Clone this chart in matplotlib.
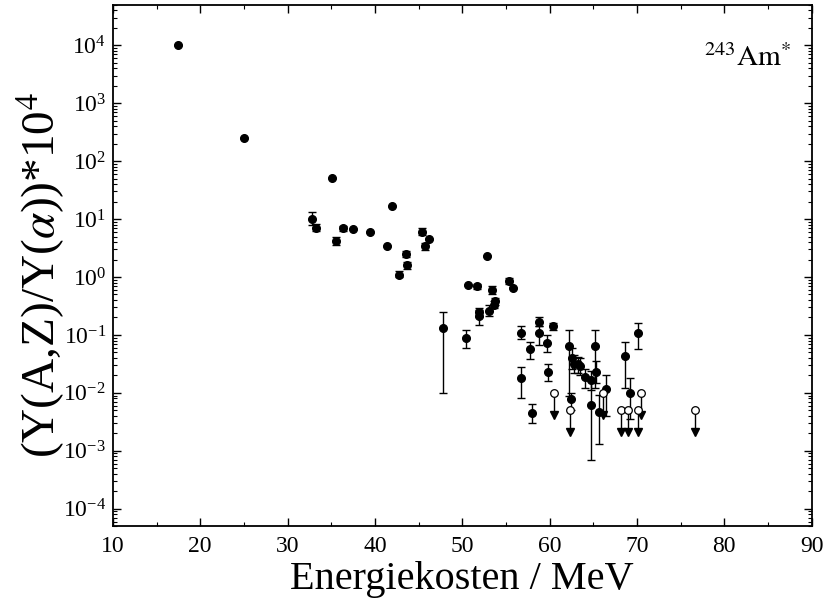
import numpy as np
import matplotlib
matplotlib.use('Agg')
from matplotlib import pyplot as plt
from matplotlib.ticker import MultipleLocator, LogLocator, FixedLocator, NullFormatter

plt.rcParams['font.family'] = ['Liberation Serif', 'DejaVu Serif']
plt.rcParams['mathtext.fontset'] = 'stix'
plt.rcParams['axes.unicode_minus'] = False

# measured yields (filled) with asymmetric errors, given as lower / upper bounds
energy = [17.5, 25.0, 32.8, 33.2, 35.1, 35.5, 36.3, 37.5, 39.4, 41.4,
          42.0, 42.8, 43.6, 43.7, 45.4, 45.7, 46.2, 47.8, 50.4, 50.6,
          51.7, 51.9, 51.9, 52.8, 53.1, 53.4, 53.6, 53.7, 55.3, 55.8,
          56.7, 56.7, 57.7, 58.0, 58.8, 58.8, 59.7, 59.8, 60.4, 62.2,
          62.4, 62.6, 62.8, 63.2, 63.5, 64.0, 64.7, 64.7, 65.2, 65.3,
          65.6, 66.5, 68.6, 69.2, 70.1]
yield_ = [1.0e4, 250, 10.1, 7.1, 52, 4.2, 6.9, 6.8, 6.0, 3.4,
          16.5, 1.1, 2.5, 1.6, 6.1, 3.4, 4.6, 0.13, 0.089, 0.73,
          0.69, 0.25, 0.21, 2.3, 0.26, 0.60, 0.33, 0.38, 0.86, 0.65,
          0.11, 0.018, 0.057, 0.0045, 0.17, 0.107, 0.074, 0.023, 0.14, 0.065,
          0.0078, 0.040, 0.032, 0.031, 0.029, 0.019, 0.017, 0.0062, 0.065, 0.023,
          0.0047, 0.0115, 0.044, 0.010, 0.108]
yield_lo = [1.0e4, 250, 8.0, 6.2, 52, 3.6, 6.3, 6.8, 6.0, 3.4,
            16.5, 1.0, 2.2, 1.4, 5.3, 2.9, 4.6, 0.01, 0.06, 0.73,
            0.63, 0.20, 0.15, 2.3, 0.21, 0.50, 0.29, 0.33, 0.75, 0.65,
            0.085, 0.008, 0.039, 0.003, 0.14, 0.066, 0.05, 0.016, 0.12, 0.009,
            0.005, 0.026, 0.022, 0.022, 0.02, 0.012, 0.011, 0.0007, 0.012, 0.015,
            0.0013, 0.004, 0.012, 0.0035, 0.058]
yield_hi = [1.0e4, 250, 13.0, 8.2, 52, 4.9, 7.5, 6.8, 6.0, 3.4,
            16.5, 1.25, 2.8, 1.8, 7.0, 3.9, 4.6, 0.25, 0.12, 0.73,
            0.75, 0.29, 0.27, 2.3, 0.33, 0.70, 0.38, 0.44, 0.95, 0.65,
            0.14, 0.028, 0.075, 0.0065, 0.20, 0.14, 0.098, 0.032, 0.16, 0.12,
            0.010, 0.06, 0.045, 0.042, 0.04, 0.026, 0.024, 0.016, 0.12, 0.035,
            0.0093, 0.02, 0.075, 0.018, 0.158]

# upper limits (open symbols)
ul_energy = [60.5, 62.3, 66.1, 68.2, 69.0, 70.1, 70.5, 76.7]
ul_yield = [0.01, 0.005, 0.01, 0.005, 0.005, 0.005, 0.01, 0.005]

y_ticks = [1e-4, 1e-3, 1e-2, 1e-1, 1e0, 1e1, 1e2, 1e3, 1e4]

fig = plt.figure(figsize=(8.24, 6.02), dpi=100)
ax = fig.add_axes([0.137, 0.126, 0.848, 0.866])

y = np.array(yield_)
yerr = [y - np.array(yield_lo), np.array(yield_hi) - y]
ax.errorbar(energy, y, yerr=yerr, fmt='o', color='black', ms=5.5,
            capsize=3, elinewidth=1, capthick=1, zorder=3)

uy = np.array(ul_yield)
ax.vlines(ul_energy, uy * 0.42, uy, color='black', lw=1, zorder=2)
ax.plot(ul_energy, uy * 0.42, 'v', color='black', ms=6, zorder=2)
ax.plot(ul_energy, uy, 'o', mfc='white', mec='black', mew=0.9, ms=5.5, zorder=4)

ax.set_yscale('log')
ax.set_xlim(10, 90)
ax.set_ylim(5e-5, 5e4)
ax.xaxis.set_major_locator(MultipleLocator(10))
ax.xaxis.set_minor_locator(MultipleLocator(5))
ax.yaxis.set_major_locator(FixedLocator(y_ticks))
ax.yaxis.set_minor_locator(LogLocator(base=10, subs=np.arange(2, 10), numticks=20))
ax.yaxis.set_minor_formatter(NullFormatter())
ax.tick_params(which='both', direction='in', top=True, right=True, labelsize=17)
ax.tick_params(which='major', length=6, width=1)
ax.tick_params(which='minor', length=3, width=0.8)
ax.tick_params(axis='x', pad=7)
ax.tick_params(axis='y', pad=5)
for s in ax.spines.values():
    s.set_linewidth(1.3)

ax.set_xlabel('Energiekosten / MeV', fontsize=29)
ax.xaxis.set_label_coords(0.5, -0.066)
ax.set_ylabel(r'(Y(A,Z)/Y($\alpha$))*10$^4$', fontsize=34)
ax.yaxis.set_label_coords(-0.066, 0.482)

ax.text(0.846, 0.883, r'$^{243}\mathrm{Am}^{*}$', transform=ax.transAxes,
        fontsize=21, ha='left', va='baseline')

fig.savefig('out.png', dpi=100)
